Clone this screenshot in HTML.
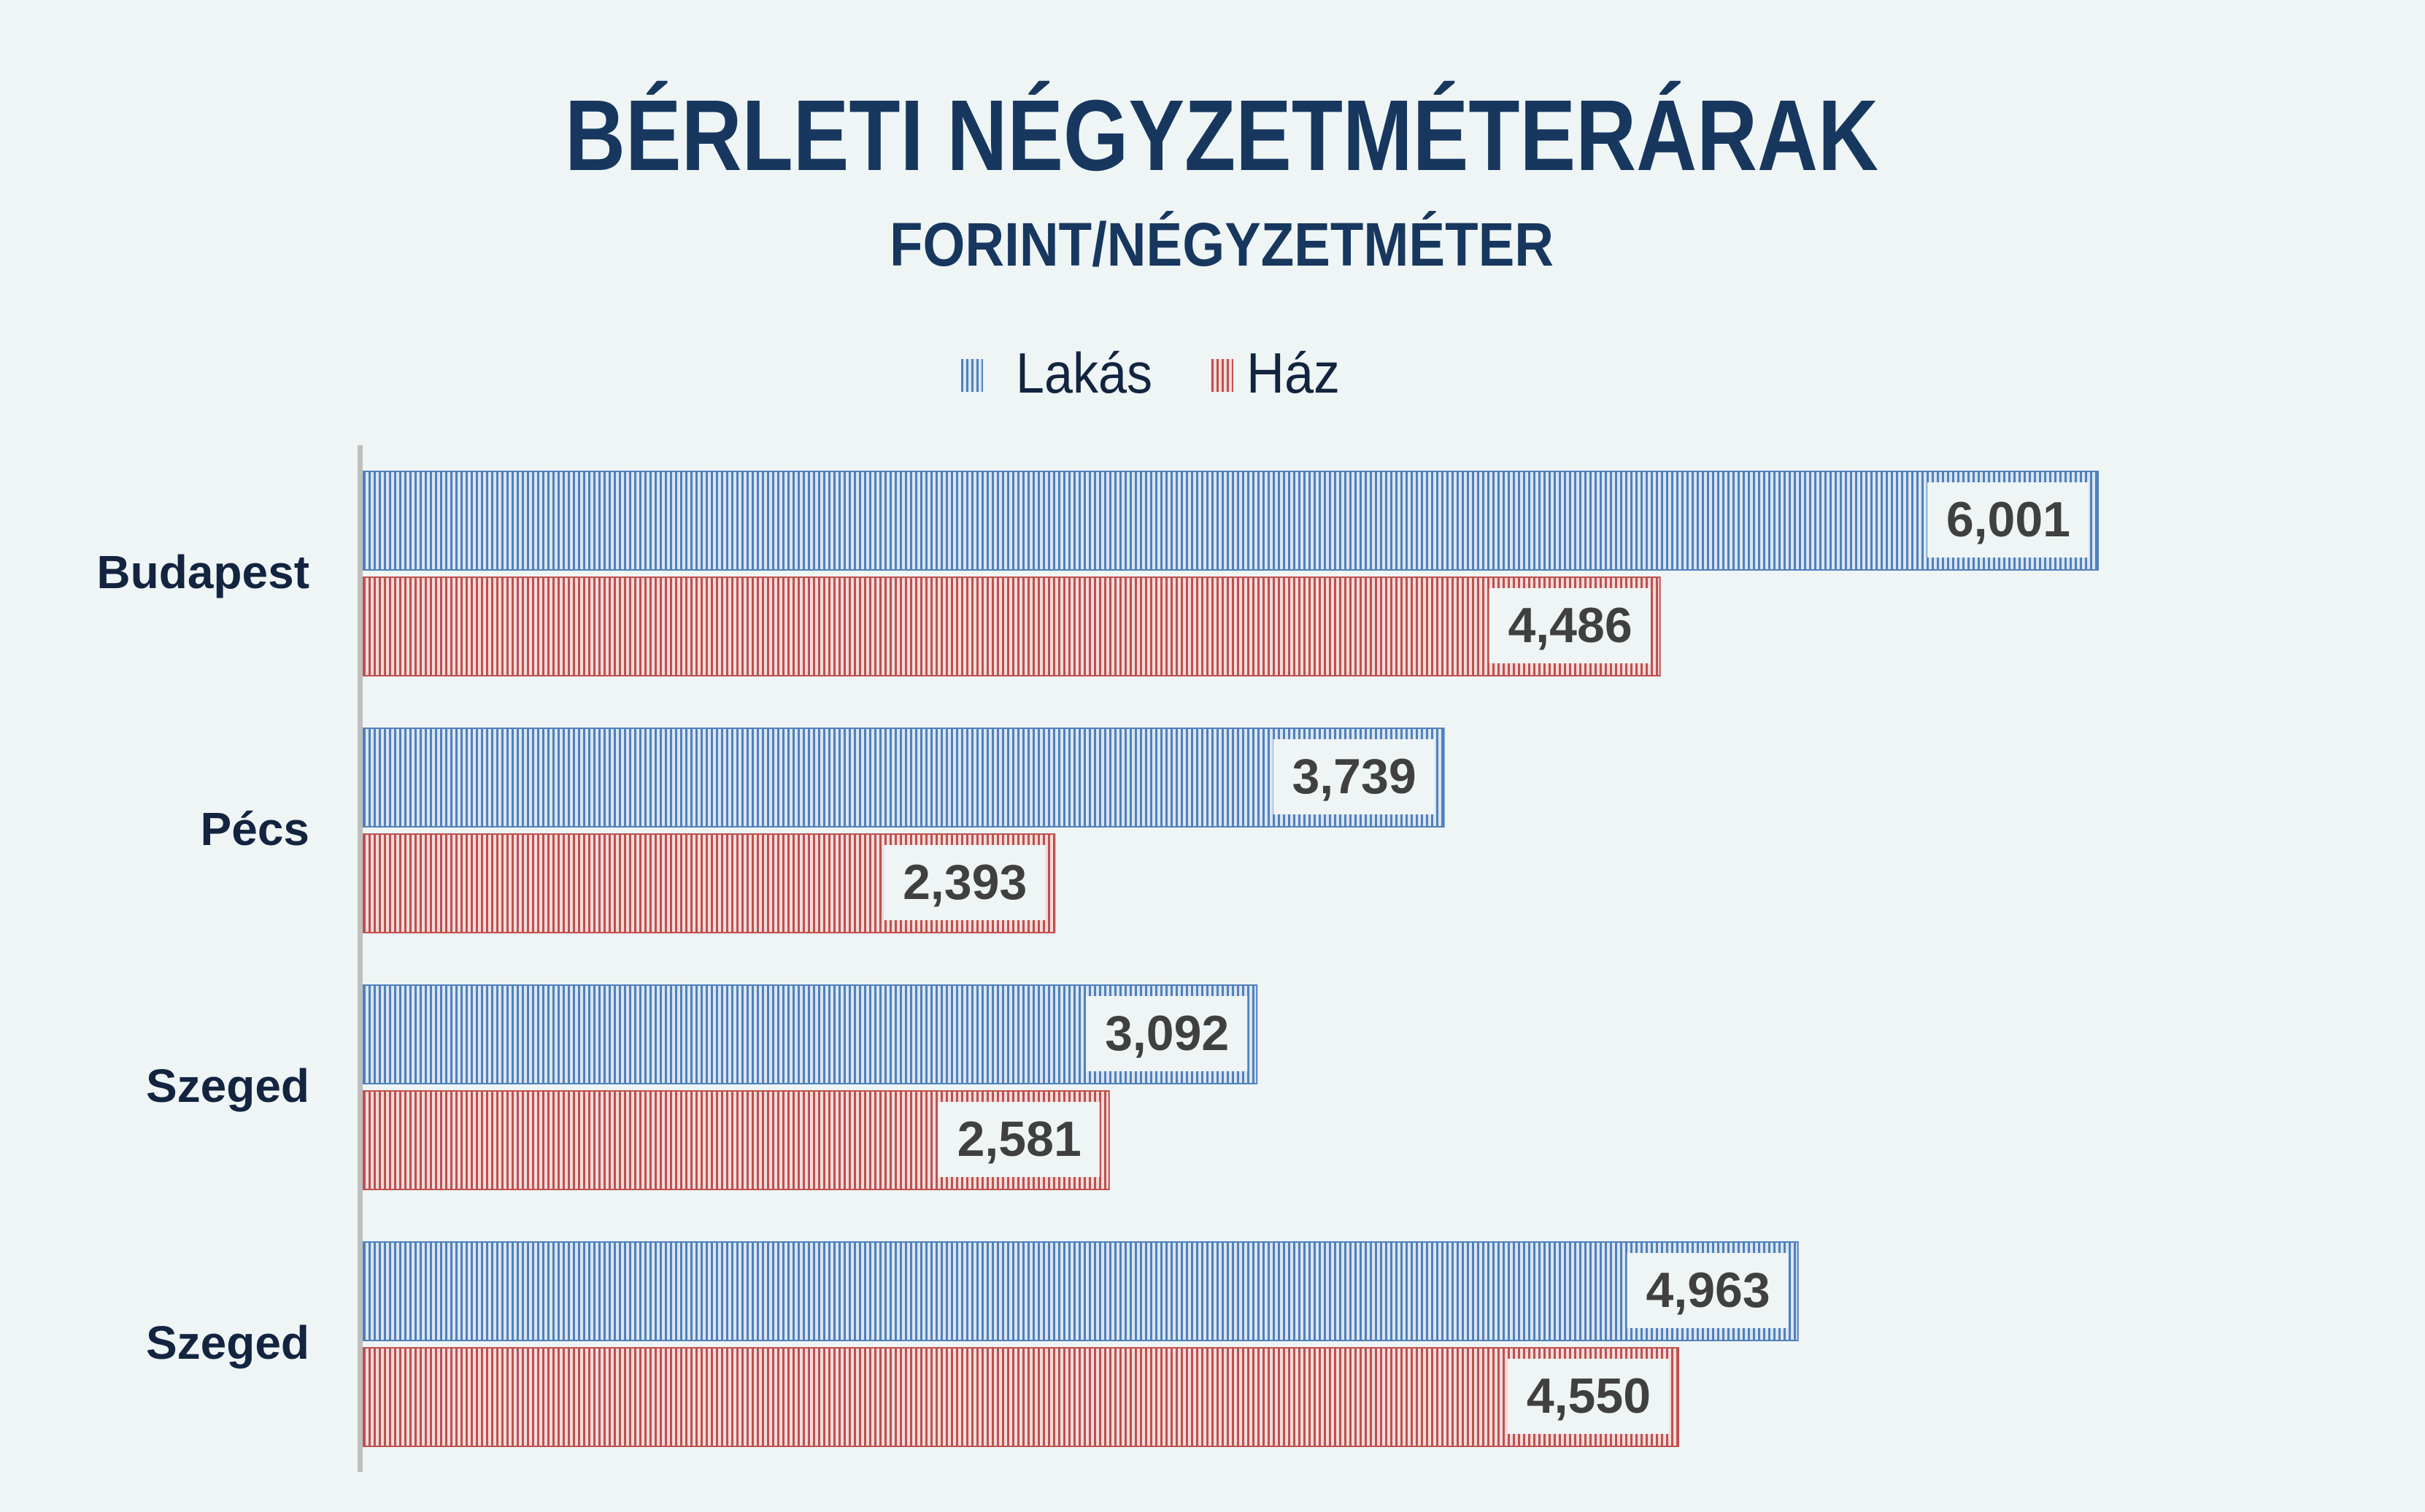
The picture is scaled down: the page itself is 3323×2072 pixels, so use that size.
<!DOCTYPE html>
<html><head><meta charset="utf-8"><style>
html,body{margin:0;padding:0;background:#eff5f5;}
svg{display:block;font-family:"Liberation Sans",sans-serif;}
</style></head><body>
<svg id="chart" width="3323" height="2072" viewBox="0 0 3323 2072" xmlns="http://www.w3.org/2000/svg">
<defs>
<pattern id="pb" width="7" height="10" patternUnits="userSpaceOnUse"><rect width="7" height="10" fill="#dbe5f1"/><rect x="1" width="3" height="10" fill="#4f81bd"/></pattern>
<pattern id="pr" width="7" height="10" patternUnits="userSpaceOnUse"><rect width="7" height="10" fill="#f2dcdb"/><rect x="1" width="3" height="10" fill="#c0504d"/></pattern>
</defs>
<rect width="3323" height="2072" fill="#eff5f5"/>
<text x="1674" y="233" text-anchor="middle" font-size="138" font-weight="bold" fill="#17375e" textLength="1800" lengthAdjust="spacingAndGlyphs">BÉRLETI NÉGYZETMÉTERÁRAK</text>
<text x="1674" y="364" text-anchor="middle" font-size="84" font-weight="bold" fill="#17375e" textLength="910" lengthAdjust="spacingAndGlyphs">FORINT/NÉGYZETMÉTER</text>
<g>
<g><rect x="1317" y="492" width="30" height="45" fill="url(#pb)"/><text x="1392" y="538" font-size="78" fill="#12243f" textLength="187" lengthAdjust="spacingAndGlyphs">Lakás</text></g>
<g><rect x="1659" y="492" width="31" height="45" fill="url(#pr)"/><text x="1708" y="538" font-size="78" fill="#12243f" textLength="128" lengthAdjust="spacingAndGlyphs">Ház</text></g>
</g>
<g id="bars"></g>
<rect x="490" y="610" width="7" height="1407" fill="#bfbfbf"/>
</svg>
<script>
const categories = ["Budapest","Pécs","Szeged","Szeged"];
const lakas = [6001,3739,3092,4963];
const haz = [4486,2393,2581,4550];
const x0 = 497, perUnit = 2378/6001;
function xs(v){return x0 + v*perUnit;}
function groupTop(i){return 646 + i*352;}
const NS="http://www.w3.org/2000/svg";
const g=document.getElementById('bars');
function mk(t,a){const e=document.createElementNS(NS,t);for(const k in a)e.setAttribute(k,a[k]);return e;}
function bar(v,y,fill,stroke,name){
  const w=xs(v)-x0;
  const r=mk('rect',{x:x0,y:y,width:w,height:135,fill:fill,stroke:stroke,'stroke-width':2});
  
  
  g.appendChild(r);
  const bx=xs(v)-13-221;
  const b=mk('rect',{x:bx,y:y+15,width:221,height:103,fill:'#eff5f5'});
  
  
  g.appendChild(b);
  const t=mk('text',{x:xs(v)-38,y:y+89,'text-anchor':'end','font-size':68,'font-weight':'bold',fill:'#404040'});
  t.textContent=v.toLocaleString('en-US');
  
  
  g.appendChild(t);
}
categories.forEach((c,i)=>{
  const y=groupTop(i);
  bar(lakas[i],y,'url(#pb)','#4f81bd','bar-lakas-'+i);
  bar(haz[i],y+145,'url(#pr)','#c0504d','bar-haz-'+i);
  const t=mk('text',{x:424,y:y+160,'text-anchor':'end','font-size':64,'font-weight':'bold',fill:'#12243f'});
  t.textContent=c;
  
  
  g.appendChild(t);
});
</script>
</body></html>
